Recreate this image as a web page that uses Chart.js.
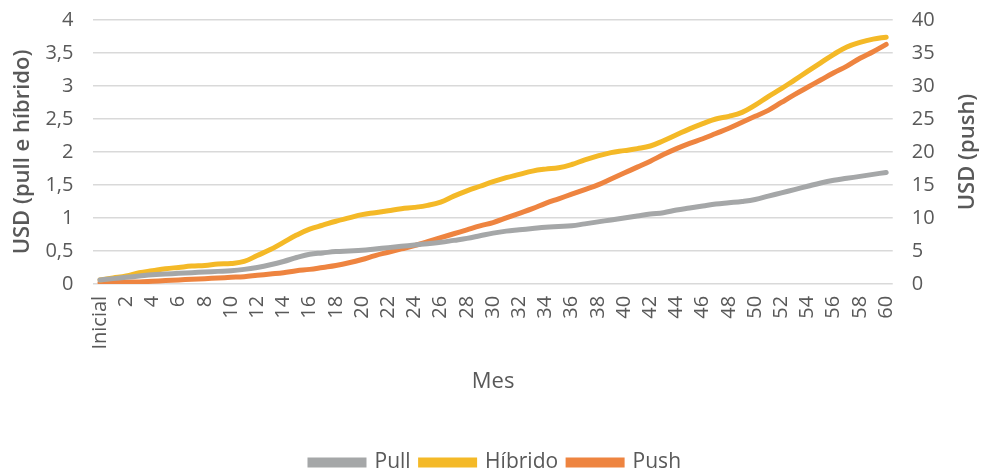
<!DOCTYPE html>
<html>
<head>
<meta charset="utf-8">
<script src="https://cdn.jsdelivr.net/npm/chart.js@4"></script>
<style>
  html, body { margin: 0; padding: 0; background: #fff; overflow: hidden; }
  #wrap { position: relative; width: 981px; height: 483px; }
</style>
</head>
<body>
<div id="wrap"><canvas id="chart"></canvas></div>
<script>
const meses = ['Inicial', '1', '2', '3', '4', '5', '6', '7', '8', '9', '10',
  '11', '12', '13', '14', '15', '16', '17', '18', '19', '20',
  '21', '22', '23', '24', '25', '26', '27', '28', '29', '30',
  '31', '32', '33', '34', '35', '36', '37', '38', '39', '40',
  '41', '42', '43', '44', '45', '46', '47', '48', '49', '50',
  '51', '52', '53', '54', '55', '56', '57', '58', '59', '60'];

// USD, eixo esquerdo
const pull = [0.06, 0.08, 0.10, 0.12, 0.14, 0.15, 0.16, 0.17, 0.18, 0.19, 0.20,
  0.22, 0.25, 0.29, 0.34, 0.40, 0.45, 0.47, 0.49, 0.50, 0.51,
  0.53, 0.55, 0.57, 0.59, 0.61, 0.63, 0.66, 0.69, 0.73, 0.77,
  0.80, 0.82, 0.84, 0.86, 0.87, 0.88, 0.91, 0.94, 0.97, 1.00,
  1.03, 1.06, 1.08, 1.12, 1.15, 1.18, 1.21, 1.23, 1.25, 1.28,
  1.33, 1.38, 1.43, 1.48, 1.53, 1.57, 1.60, 1.63, 1.66, 1.69];

const hibrido = [0.06, 0.09, 0.12, 0.17, 0.20, 0.23, 0.25, 0.27, 0.28, 0.30, 0.31,
  0.34, 0.43, 0.52, 0.63, 0.74, 0.83, 0.89, 0.95, 1.00, 1.05,
  1.08, 1.11, 1.14, 1.16, 1.19, 1.24, 1.33, 1.41, 1.48, 1.55,
  1.61, 1.66, 1.71, 1.74, 1.76, 1.81, 1.88, 1.94, 1.99, 2.02,
  2.05, 2.09, 2.17, 2.26, 2.35, 2.43, 2.50, 2.54, 2.60, 2.71,
  2.84, 2.96, 3.09, 3.22, 3.35, 3.48, 3.59, 3.66, 3.71, 3.74];

// USD, eixo direito
const push = [0.2, 0.2, 0.3, 0.3, 0.4, 0.5, 0.6, 0.7, 0.8, 0.9, 1.0,
  1.1, 1.3, 1.5, 1.7, 2.0, 2.2, 2.5, 2.8, 3.2, 3.7,
  4.3, 4.8, 5.3, 5.8, 6.4, 7.0, 7.6, 8.2, 8.8, 9.3,
  10.0, 10.7, 11.4, 12.2, 12.9, 13.6, 14.3, 15.0, 15.9, 16.8,
  17.7, 18.6, 19.6, 20.5, 21.3, 22.0, 22.8, 23.6, 24.5, 25.4,
  26.3, 27.5, 28.7, 29.8, 30.9, 32.0, 33.0, 34.2, 35.2, 36.3];

const textColor = '#595959';
const gridColor = '#d9d9d9';
const titleFont = { family: 'Open Sans', size: 22, weight: '600' };

function serie(label, data, color, axis) {
    return {
        label: label,
        data: data,
        yAxisID: axis,
        borderColor: color,
        backgroundColor: color,
        borderWidth: 5,
        pointRadius: 0,
        tension: 0.4,
        borderCapStyle: 'round',
        fill: false
    };
}

// Chart.js turns a right-hand title clockwise; the original reads bottom to top
const rightTitle = {
    id: 'rightTitle',
    afterDraw(chart) {
        const s = chart.scales.y1;
        const area = chart.chartArea;
        const ctx = chart.ctx;
        ctx.save();
        ctx.translate(s.right - titleFont.size * 0.6, (area.top + area.bottom) / 2);
        ctx.rotate(-Math.PI / 2);
        ctx.font = titleFont.weight + ' ' + titleFont.size + 'px "' + titleFont.family + '"';
        ctx.fillStyle = textColor;
        ctx.textAlign = 'center';
        ctx.textBaseline = 'middle';
        ctx.fillText(s.options.title.text, 0, 0);
        ctx.restore();
    }
};

new Chart(document.getElementById('chart'), {
    type: 'line',
    data: {
        labels: meses,
        datasets: [
            serie('Pull', pull, '#a5a7a8', 'y'),
            serie('Híbrido', hibrido, '#f4b927', 'y'),
            serie('Push', push, '#ee8440', 'y1')
        ]
    },
    plugins: [rightTitle],
    options: {
        responsive: true,
        maintainAspectRatio: false,
        animation: false,
        layout: { padding: { top: 2, left: 10, right: 0, bottom: 0 } },
        scales: {
            x: {
                offset: true,
                grid: { display: false, drawTicks: false },
                border: { display: false },
                ticks: {
                    color: textColor,
                    font: { family: 'Open Sans', size: 20 },
                    minRotation: 90,
                    maxRotation: 90,
                    autoSkip: false,
                    padding: 12,
                    // only every other month is labelled
                    callback: function(value, index) {
                        return index % 2 === 0 ? this.getLabelForValue(value) : '';
                    }
                },
                title: {
                    display: true,
                    text: 'Mes',
                    color: textColor,
                    font: { family: 'Open Sans', size: 22 },
                    padding: { top: 7, bottom: 47 }
                }
            },
            y: {
                position: 'left',
                min: 0,
                max: 4,
                grid: { color: gridColor, lineWidth: 1.5, drawTicks: true, tickLength: 12, tickColor: 'rgba(0,0,0,0)' },
                border: { display: false },
                ticks: {
                    stepSize: 0.5,
                    color: textColor,
                    font: { family: 'Open Sans', size: 20 },
                    padding: 8,
                    callback: v => String(v).replace('.', ',')
                },
                title: {
                    display: true,
                    text: 'USD (pull e híbrido)',
                    color: textColor,
                    font: titleFont,
                    padding: { top: 0, bottom: 1 }
                }
            },
            y1: {
                position: 'right',
                min: 0,
                max: 40,
                grid: { drawOnChartArea: false, drawTicks: true, tickLength: 11, tickColor: 'rgba(0,0,0,0)' },
                border: { display: false },
                ticks: {
                    stepSize: 5,
                    color: textColor,
                    font: { family: 'Open Sans', size: 20 },
                    padding: 8
                },
                title: {
                    // keeps the space, the text itself is drawn by rightTitle
                    display: true,
                    text: 'USD (push)',
                    color: 'rgba(0,0,0,0)',
                    font: titleFont,
                    padding: { top: 0, bottom: 12 }
                }
            }
        },
        plugins: {
            legend: {
                position: 'bottom',
                labels: {
                    color: textColor,
                    font: { family: 'Open Sans', size: 21 },
                    boxWidth: 54,
                    boxHeight: 5,
                    padding: 10
                }
            },
            tooltip: { enabled: false }
        }
    }
});
</script>
</body>
</html>
